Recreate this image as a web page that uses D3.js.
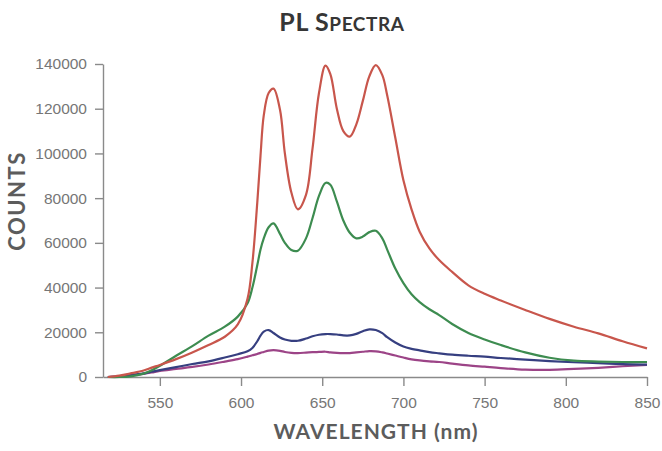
<!DOCTYPE html>
<html>
<head>
<meta charset="utf-8">
<script src="https://cdn.jsdelivr.net/npm/d3@7"></script>
<style>
  html, body { margin: 0; padding: 0; background: #fff; }
  svg { display: block; }
</style>
</head>
<body>
<svg id="chart" width="662" height="451"></svg>
<script>
// ---- data ----
const wavelengths = [518, 525, 532, 540, 545, 550, 560, 570, 580, 590, 598, 604, 607, 610, 612, 614, 617, 620, 624, 627, 631, 635, 640, 644, 648, 652, 655, 659, 663, 667, 671, 675, 679, 683, 687, 690, 695, 700, 705, 710, 716, 722, 730, 740, 750, 760, 775, 790, 805, 820, 835, 850];

const redCounts = [0, 600, 1600, 2900, 4200, 5400, 8000, 11000, 14300, 18000, 23500, 35000, 51000, 78000, 99000, 117000, 127000, 129000, 119500, 100000, 82500, 75000, 81500, 102000, 127000, 139300, 135500, 120000, 110000, 107500, 113000, 123500, 134500, 139500, 135000, 126000, 107000, 88000, 75000, 65000, 57500, 52300, 47000, 41000, 37200, 34200, 30000, 26000, 22500, 19500, 16000, 12800];

const greenCounts = [0, 0, 300, 1500, 3000, 5000, 9500, 13800, 18500, 22500, 27000, 33000, 40000, 50000, 57000, 62000, 67000, 68700, 64000, 60000, 56800, 56500, 62000, 71000, 81000, 86800, 86000, 78500, 70000, 64500, 62000, 62800, 64800, 65400, 62000, 57000, 48500, 42000, 37000, 33500, 30300, 27700, 23700, 19700, 16800, 14300, 11000, 8600, 7300, 6900, 6700, 6700];

const blueCounts = [0, 300, 800, 1600, 2400, 3100, 4400, 5800, 7000, 8700, 10200, 11500, 13000, 16000, 18500, 20300, 21000, 19700, 17700, 16800, 16200, 16200, 17200, 18200, 18900, 19200, 19200, 19000, 18600, 18600, 19300, 20500, 21300, 21000, 19600, 17800, 15400, 13600, 12600, 11900, 11100, 10600, 10000, 9500, 9100, 8500, 7800, 7100, 6600, 6200, 5800, 5500];

const magentaCounts = [0, 300, 700, 1400, 2000, 2700, 3600, 4500, 5600, 6900, 8000, 9100, 9700, 10300, 10800, 11200, 11800, 12000, 11700, 11200, 10800, 10700, 10900, 11100, 11200, 11300, 11000, 10800, 10700, 10700, 11000, 11300, 11600, 11500, 11000, 10500, 9600, 8700, 7900, 7400, 7000, 6700, 6000, 5200, 4600, 4000, 3300, 3200, 3600, 4100, 4800, 5400];

const xTicks = [550, 600, 650, 700, 750, 800, 850];
const yTicks = [0, 20000, 40000, 60000, 80000, 100000, 120000, 140000];

const seriesList = [
  { name: "magenta", values: magentaCounts, color: "#9c4487" },
  { name: "blue", values: blueCounts, color: "#363f80" },
  { name: "green", values: greenCounts, color: "#3d8c50" },
  { name: "red", values: redCounts, color: "#c8564c" }
];

// ---- layout ----
const W = 662, H = 451;
const margin = { left: 103, right: 15, top: 64, bottom: 74 };
const svg = d3.select("#chart");

const x = d3.scaleLinear().domain([515, 850]).range([margin.left, W - margin.right]);
const y = d3.scaleLinear().domain([0, 140000]).range([H - margin.bottom, margin.top]);

// axes
const axisColor = "#8a8a8a";
const tickFont = "'Liberation Sans', Arial, Helvetica, sans-serif";

const xAxis = svg.append("g")
  .attr("transform", `translate(0,${H - margin.bottom})`)
  .call(d3.axisBottom(x).tickValues(xTicks).tickFormat(d3.format("d")).tickSize(9).tickSizeOuter(0).tickPadding(11));

const yAxis = svg.append("g")
  .attr("transform", `translate(${margin.left},0)`)
  .call(d3.axisLeft(y).tickValues(yTicks).tickFormat(d3.format("d")).tickSize(8).tickSizeOuter(0).tickPadding(8));

[xAxis, yAxis].forEach(g => {
  g.select(".domain").attr("stroke", axisColor).attr("stroke-width", 1.4);
  g.selectAll(".tick line").attr("stroke", axisColor).attr("stroke-width", 1.4);
  g.selectAll(".tick text")
    .attr("fill", "#767676")
    .style("font-family", tickFont)
    .style("font-size", "15.5px");
});

// lines
const line = d3.line()
  .x((d, i) => x(wavelengths[i]))
  .y(d => y(d))
  .curve(d3.curveCatmullRom.alpha(0.5));

svg.append("g").selectAll("path")
  .data(seriesList)
  .join("path")
  .attr("d", s => line(s.values))
  .attr("fill", "none")
  .attr("stroke", s => s.color)
  .attr("stroke-width", 2.2)
  .attr("stroke-linejoin", "round");

// title (manual small caps)
const labelFont = "Lato, 'Open Sans', 'DejaVu Sans', sans-serif";
const title = svg.append("text")
  .attr("x", 342)
  .attr("y", 31)
  .attr("text-anchor", "middle")
  .style("font-family", labelFont)
  .style("font-weight", "bold")
  .style("letter-spacing", "0.6px")
  .attr("fill", "#363636");
title.append("tspan").style("font-size", "25px").text("PL S");
title.append("tspan").style("font-size", "19px").text("PECTRA");

// axis titles
svg.append("text")
  .attr("x", (margin.left + W - margin.right) / 2 + 1)
  .attr("y", 439)
  .attr("text-anchor", "middle")
  .style("font-family", labelFont)
  .style("font-weight", "bold")
  .style("font-size", "21px")
  .style("letter-spacing", "1px")
  .attr("fill", "#5c5c5c")
  .text("WAVELENGTH (nm)");

svg.append("text")
  .attr("transform", "translate(25,201) rotate(-90)")
  .attr("text-anchor", "middle")
  .style("font-family", labelFont)
  .style("font-weight", "bold")
  .style("font-size", "22px")
  .style("letter-spacing", "1.5px")
  .attr("fill", "#5c5c5c")
  .text("COUNTS");
</script>
</body>
</html>
